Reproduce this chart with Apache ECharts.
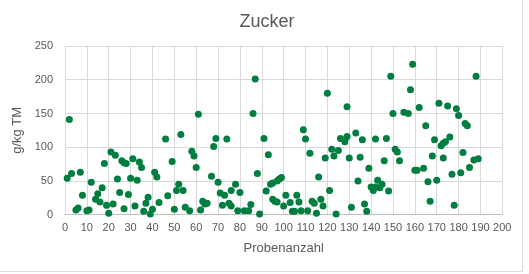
<!DOCTYPE html>
<html>
<head>
<meta charset="utf-8">
<script src="https://cdn.jsdelivr.net/npm/echarts@6/dist/echarts.min.js"></script>
<style>
html,body{margin:0;padding:0;background:#fff;}
#c{width:529px;height:274px;}
</style>
</head>
<body>
<div id="c"></div>
<script>
// Probe number (x) and sugar content in g/kg TM (y)
const probenNr = [1,2,3,5,6,7,8,10,11,12,14,15,16,17,18,19,20,21,22,23,24,25,26,27,27,28,29,30,31,32,33,34,35,36,37,38,39,40,41,42,43,46,47,49,50,51,52,53,54,55,57,58,59,60,61,62,63,64,65,67,68,69,70,71,72,73,74,75,76,76,78,79,80,82,84,85,86,87,88,89,91,92,93,94,95,95,96,97,97,98,99,100,101,103,104,105,106,107,108,109,110,111,112,113,114,115,116,117,118,119,120,121,122,123,124,125,126,128,128,129,129,130,131,133,134,135,136,137,138,139,140,141,142,142,143,144,145,146,147,148,149,150,151,152,153,155,157,158,159,160,161,162,164,165,166,167,168,169,170,171,172,173,173,174,175,176,177,178,179,180,181,182,183,184,185,187,188,189];
const zuckerWerte = [54,141,61,7,10,63,29,6,7,48,23,31,19,40,76,14,2,93,16,88,53,33,80,9,77,76,30,54,83,13,51,78,70,5,17,26,1,8,63,56,18,112,28,79,8,36,45,119,36,11,6,94,87,70,149,7,20,16,17,57,101,113,48,32,14,29,112,17,13,36,45,6,33,6,6,15,150,201,61,1,113,35,89,45,47,23,20,50,19,53,55,13,29,18,5,5,29,19,6,126,112,6,91,20,17,2,56,23,13,84,180,36,97,87,1,95,113,111,108,160,116,84,11,121,50,85,111,16,5,69,41,36,41,112,51,40,45,80,113,35,205,150,97,93,80,152,150,185,223,66,66,159,69,132,49,20,87,111,51,165,102,106,84,108,161,115,60,14,157,147,62,92,135,132,70,81,205,83];
const titleText = 'Zucker';
const xName = 'Probenanzahl';
const yName = 'g/kg TM';

const points = probenNr.map((x, i) => [x, zuckerWerte[i]]);
const txt = '#595959';
const chart = echarts.init(document.getElementById('c'), null, {renderer: 'canvas'});
chart.setOption({
  animation: false,
  backgroundColor: '#ffffff',
  title: {
    text: titleText,
    left: 262,
    textAlign: 'center',
    top: 8,
    textStyle: {fontFamily: 'Liberation Sans', fontSize: 18, fontWeight: 'normal', color: txt}
  },
  grid: {left: 65, right: 26.7, top: 46, bottom: 59.3, containLabel: false},
  xAxis: {
    type: 'value', min: 0, max: 200, interval: 10,
    name: xName, nameLocation: 'middle', nameGap: 27,
    nameTextStyle: {fontFamily: 'Liberation Sans', fontSize: 13, color: txt},
    axisLine: {show: true, lineStyle: {color: '#bfbfbf'}},
    axisTick: {show: false},
    axisLabel: {fontFamily: 'Liberation Sans', fontSize: 11, color: txt, margin: 8},
    splitLine: {show: true, lineStyle: {color: '#d9d9d9'}}
  },
  yAxis: {
    type: 'value', min: 0, max: 250, interval: 50,
    name: yName, nameLocation: 'middle', nameGap: 40,
    nameTextStyle: {fontFamily: 'Liberation Sans', fontSize: 13, color: txt},
    axisLine: {show: false},
    axisTick: {show: false},
    axisLabel: {fontFamily: 'Liberation Sans', fontSize: 11, color: txt, margin: 12},
    splitLine: {show: true, lineStyle: {color: '#d9d9d9'}}
  },
  series: [{
    type: 'scatter',
    data: points,
    symbol: 'circle',
    symbolSize: 7,
    itemStyle: {color: '#007E3F', opacity: 1},
    emphasis: {disabled: true}
  }],
  graphic: [
    {type: 'line', shape: {x1: 522.5, y1: 0, x2: 522.5, y2: 271.5}, style: {stroke: '#d9d9d9', lineWidth: 1}, silent: true},
    {type: 'line', shape: {x1: 0, y1: 271.5, x2: 522.5, y2: 271.5}, style: {stroke: '#d9d9d9', lineWidth: 1}, silent: true}
  ]
});
</script>
</body>
</html>
